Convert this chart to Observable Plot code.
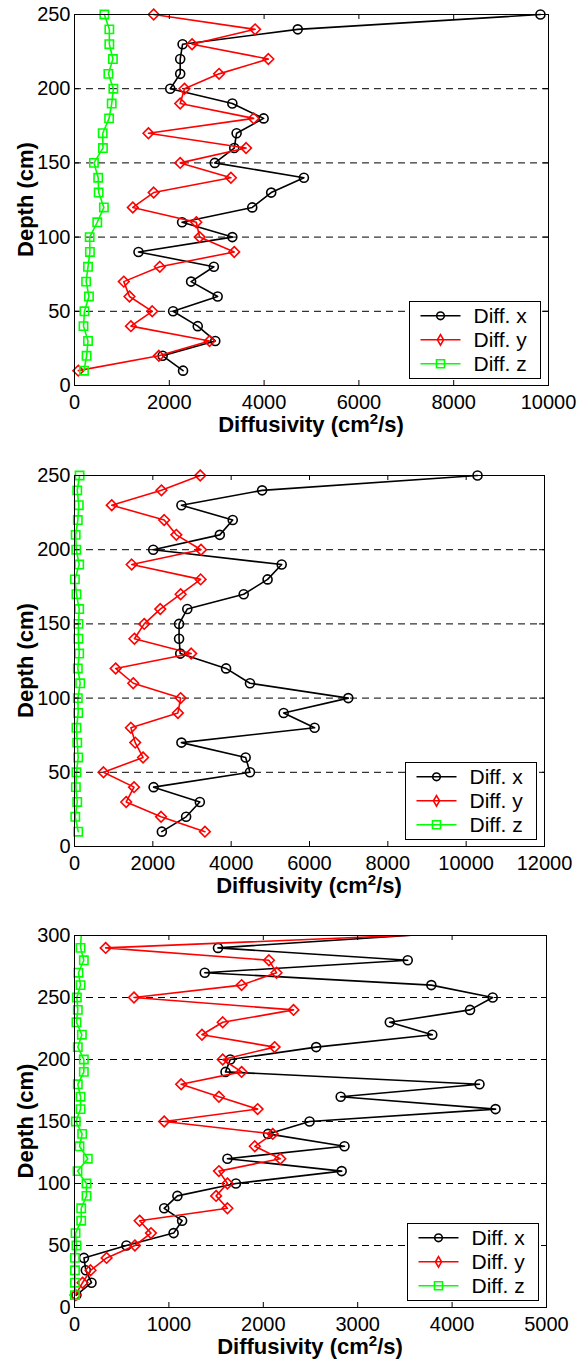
<!DOCTYPE html>
<html><head><meta charset="utf-8">
<script src="https://cdn.jsdelivr.net/npm/d3@7"></script>
<script src="https://cdn.jsdelivr.net/npm/@observablehq/plot@0.6"></script>
<style>
body{margin:0;background:#fff;}
#wrap{position:relative;width:581px;height:1364px;overflow:hidden;}
#wrap svg{position:absolute;left:0;overflow:visible;}
svg text{font-family:"Liberation Sans",Arial,sans-serif;}
</style></head><body><div id="wrap"></div>
<script>
// ---------- DATA ----------
const seriesNames = ["Diff. x", "Diff. y", "Diff. z"];
const xLabel = "Diffusivity (cm";
const yLabel = "Depth (cm)";

// Panel 1 (depth 250 -> 10)
const depth1 = [250,240,230,220,210,200,190,180,170,160,150,140,130,120,110,100,90,80,70,60,50,40,30,20,10];
const x1 = [9830,4710,2280,2230,2230,2020,3330,3990,3420,3370,2960,4840,4150,3750,2270,3330,1350,2940,2460,3020,2080,2600,2970,1860,2290];
const y1 = [1670,3810,2480,4090,3050,2320,2230,3780,1560,3620,2230,3300,1670,1230,2570,2640,3370,1800,1040,1160,1640,1190,2850,1780,80];
const z1 = [630,735,735,810,715,820,785,730,595,600,410,500,510,620,480,320,325,285,245,305,210,190,285,255,200];
const xTicks1 = [0,2000,4000,6000,8000,10000];
const yTicks1 = [0,50,100,150,200,250];

// Panel 2 (depth 250 -> 10)
const depth2 = [250,240,230,220,210,200,190,180,170,160,150,140,130,120,110,100,90,80,70,60,50,40,30,20,10];
const x2 = [10290,4790,2730,4040,3710,2010,5290,4930,4320,2880,2670,2670,2700,3870,4480,6990,5340,6130,2730,4370,4480,2020,3200,2850,2230];
const y2 = [3210,2220,950,2290,2600,3230,1460,3220,2710,2190,1780,1530,2980,1050,1500,2710,2640,1440,1550,1750,740,1520,1320,2210,3330];
const z2 = [130,70,110,85,30,45,120,10,50,120,100,100,120,85,145,85,95,50,70,95,50,35,70,20,95];
const xTicks2 = [0,2000,4000,6000,8000,10000,12000];
const yTicks2 = [0,50,100,150,200,250];

// Panel 3 (depth 310 -> 10; the top point lies above the axis limit)
const depth3 = [310,290,280,270,260,250,240,230,220,210,200,190,180,170,160,150,140,130,120,110,100,90,80,70,60,50,40,30,20,10];
const x3 = [5530,1520,3530,1380,3780,4430,4190,3340,3790,2560,1650,1600,4290,2820,4460,2490,2050,2860,1620,2830,1710,1090,950,1140,1050,550,100,120,180,20];
const y3 = [6620,330,2060,2140,1770,630,2320,1570,1350,2120,1570,1770,1130,1530,1940,950,2100,1910,2180,1530,1620,1500,1620,690,810,640,340,170,85,10];
const z3 = [78,64,99,42,64,25,35,21,78,35,99,99,35,64,64,14,81,53,141,32,127,127,71,71,11,21,5,5,5,5];
const xTicks3 = [0,1000,2000,3000,4000,5000];
const yTicks3 = [0,50,100,150,200,250,300];

// ---------- STYLE ----------
const colors = ["#000000", "#ff0000", "#00ff00"];
const symbols = ["circle", "diamond2", "square"];
const radii = [4.5, 4.8, 4.7];
const legendSymbols = [[d3.symbolCircle, 45], [d3.symbolDiamond, 32], [d3.symbolSquare, 64]];

const wrap = document.getElementById("wrap");

function panel(cfg) {
  const W = 581, ml = 74;
  const {top, height, mt, mb, mr, depths, xs, ys, zs, xTicks, yTicks, clip} = cfg;
  const xmax = xTicks[xTicks.length - 1], ymax = yTicks[yTicks.length - 1];
  const pw = W - ml - mr, ph = height - mt - mb;
  const tick = 5;
  const rows = (vals, s) => depths.map((d, i) => ({depth: d, v: vals[i], s}));
  const data = [rows(xs, 0), rows(ys, 1), rows(zs, 2)];
  const marks = [
    Plot.ruleY(yTicks.slice(1, -1), {y: d => d, stroke: "#000", strokeWidth: 1, strokeDasharray: "7,5"})
  ];
  data.forEach((rs, k) => {
    marks.push(Plot.line(rs, {x: "v", y: "depth", stroke: colors[k], strokeWidth: 1.6, clip}));
    marks.push(Plot.dot(rs.filter(r => r.depth <= ymax), {x: "v", y: "depth", symbol: symbols[k], r: radii[k], stroke: colors[k], strokeWidth: 1.6, fill: "none"}));
  });
  marks.push(
    Plot.tickX(xTicks, {x: d => d, insetTop: ph - tick, stroke: "#000"}),
    Plot.tickX(xTicks, {x: d => d, insetBottom: ph - tick, stroke: "#000"}),
    Plot.tickY(yTicks, {y: d => d, insetRight: pw - tick, stroke: "#000"}),
    Plot.tickY(yTicks, {y: d => d, insetLeft: pw - tick, stroke: "#000"}),
    Plot.frame({stroke: "#000", strokeWidth: 1}),
    Plot.axisX({ticks: xTicks, tickSize: 0, tickPadding: 9, fontSize: 20, label: null, tickFormat: d => String(d), fill: "#000"}),
    Plot.axisY({ticks: yTicks, tickSize: 0, tickPadding: 4, fontSize: 20, label: null, tickFormat: d => String(d), fill: "#000"})
  );
  const plot = Plot.plot({
    width: W, height,
    marginLeft: ml, marginRight: mr, marginTop: mt, marginBottom: mb,
    x: {domain: [0, xmax], label: null},
    y: {domain: [0, ymax], label: null},
    style: {fontFamily: "'Liberation Sans', Arial, sans-serif", fontSize: "20px", color: "#000", background: "transparent", overflow: "visible"},
    marks
  });
  plot.style.top = top + "px";
  const svg = d3.select(plot);
  const fx0 = ml, fx1 = W - mr, fy0 = mt, fy1 = height - mb;

  // axis titles
  const xt = svg.append("text")
    .attr("x", (fx0 + fx1) / 2).attr("y", fy1 + 47)
    .attr("text-anchor", "middle").attr("font-weight", "bold").attr("font-size", 22).attr("fill", "#000");
  xt.append("tspan").text(xLabel);
  xt.append("tspan").attr("dy", -8).attr("font-size", 15).text("2");
  xt.append("tspan").attr("dy", 8).text("/s)");
  svg.append("text")
    .attr("transform", `translate(33,${(fy0 + fy1) / 2}) rotate(-90)`)
    .attr("text-anchor", "middle").attr("font-weight", "bold").attr("font-size", 22).attr("fill", "#000")
    .text(yLabel);

  // legend
  const lw = 131, lh = 77;
  const lx = fx1 - 7.5 - lw, ly = fy1 - 6.5 - lh;
  const g = svg.append("g");
  g.append("rect").attr("x", lx).attr("y", ly).attr("width", lw).attr("height", lh)
    .attr("fill", "#fff").attr("stroke", "#000").attr("stroke-width", 1);
  seriesNames.forEach((name, i) => {
    const cy = ly + 14.3 + i * 24;
    g.append("line").attr("x1", lx + 11).attr("x2", lx + 51).attr("y1", cy).attr("y2", cy)
      .attr("stroke", colors[i]).attr("stroke-width", 1.6);
    g.append("path").attr("d", d3.symbol(legendSymbols[i][0], legendSymbols[i][1])())
      .attr("transform", `translate(${lx + 31},${cy})`)
      .attr("fill", "none").attr("stroke", colors[i]).attr("stroke-width", 1.6);
    g.append("text").attr("x", lx + 64).attr("y", cy).attr("dy", "0.35em")
      .attr("text-anchor", "start")
      .attr("font-size", 21).attr("fill", "#000").text(name);
  });
  wrap.appendChild(plot);
}

panel({top: 0, height: 460, mt: 14, mb: 75, mr: 33, depths: depth1, xs: x1, ys: y1, zs: z1, xTicks: xTicks1, yTicks: yTicks1, clip: false});
panel({top: 460, height: 460, mt: 15, mb: 74, mr: 37, depths: depth2, xs: x2, ys: y2, zs: z2, xTicks: xTicks2, yTicks: yTicks2, clip: false});
panel({top: 920, height: 444, mt: 15, mb: 57, mr: 35, depths: depth3, xs: x3, ys: y3, zs: z3, xTicks: xTicks3, yTicks: yTicks3, clip: true});
</script></body></html>
